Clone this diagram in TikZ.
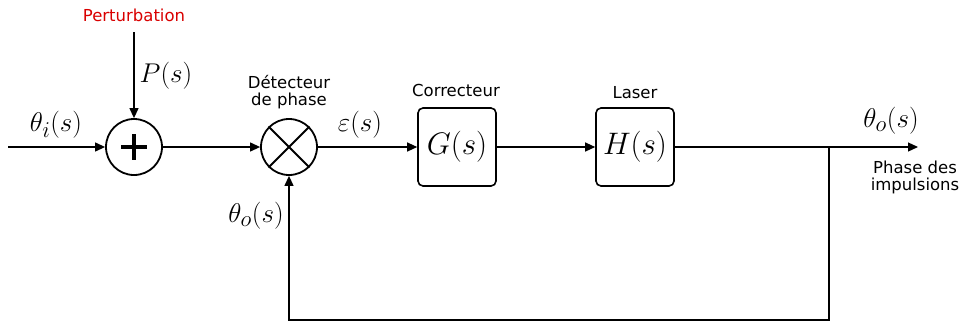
\documentclass[tikz,border=0pt]{standalone}
\usepackage{graphicx}
\usepackage{fontspec}
\setsansfont{DejaVu Sans}
\usetikzlibrary{arrows.meta,calc}
\newcommand{\blkmath}[1]{\scalebox{1.25}{$#1$}}
\newcommand{\labmath}[1]{\scalebox{1.09}{$#1$}}
\begin{document}
\begin{tikzpicture}[x=1pt,y=-1pt,
  line width=1.2pt,
  arr/.style={-{Triangle[length=10pt,width=9pt]}},
  circ/.style={circle,draw,line width=1.8pt,minimum size=56pt,inner sep=0pt},
  blk/.style={draw,rounded corners=5pt,line width=1.6pt,minimum width=78pt,minimum height=78pt,inner sep=0pt,font=\fontsize{24.88}{30}\selectfont},
  lab/.style={font=\sffamily\fontsize{16.5}{20}\selectfont,align=center},
  mlab/.style={font=\fontsize{24.88}{30}\selectfont}]
\useasboundingbox (0,0) rectangle (963,322);
\coordinate (in) at (8,147);
\node[circ] (sum) at (134,147) {};
\draw[line width=3.6pt] ($(sum)+(-13,0)$) -- ($(sum)+(13,0)$) ($(sum)+(0,-13)$) -- ($(sum)+(0,13)$);
\node[circ] (mul) at (289,147) {};
\draw[line width=1.8pt] (mul.north east) -- (mul.south west) (mul.north west) -- (mul.south east);
\node[blk] (G) at (457,147) {\blkmath{G(s)}};
\node[blk] (H) at (635,147) {\blkmath{H(s)}};
\coordinate (br) at (829,147);
\coordinate (out) at (918,147);
\coordinate (bl) at (829,320);
\coordinate (bm) at (289,320);
\coordinate (pert) at (134,32);
\node[lab,text=red!85!black] (pt) at (134,15) {Perturbation};
\node[lab] (det) at (289,92) {Détecteur\\[-3pt]de phase};
\node[lab] (cor) at (456,90) {Correcteur};
\node[lab] (las) at (635,93) {Laser};
\node[lab] (phi) at (915,177) {Phase des\\[-3pt]impulsions};
\node[mlab] (ps) at (166,76) {\labmath{P(s)}};
\node[mlab] (ti) at (56,125) {\labmath{\theta_i(s)}};
\node[mlab] (eps) at (360,125) {\labmath{\varepsilon(s)}};
\node[mlab] (to1) at (891,121) {\labmath{\theta_o(s)}};
\node[mlab] (to2) at (256,216) {\labmath{\theta_o(s)}};
\draw[arr] (in) -- (sum);
\draw[arr] (pert) -- (sum);
\draw[arr] (sum) -- (mul);
\draw[arr] (mul) -- (G);
\draw[arr] (G) -- (H);
\draw[arr] (H) -- (out);
\draw[arr] (br) -- (bl) -- (bm) -- (mul);
\end{tikzpicture}
\end{document}
